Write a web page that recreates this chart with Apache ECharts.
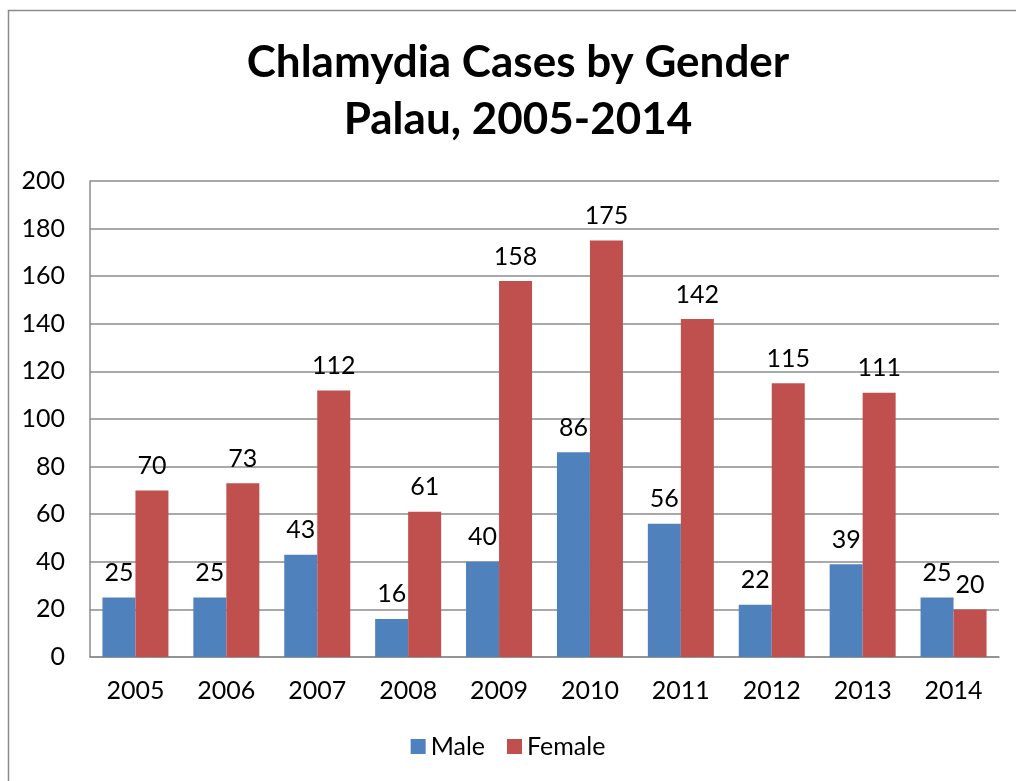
<!DOCTYPE html>
<html>
<head>
<meta charset="utf-8">
<script src="https://cdn.jsdelivr.net/npm/echarts@6/dist/echarts.min.js"></script>
<style>
    html, body { margin: 0; padding: 0; background: #fff; }
    #chart { width: 1016px; height: 781px; }
</style>
</head>
<body>
<div id="chart"></div>
<script>
    // data
    const years = ['2005', '2006', '2007', '2008', '2009', '2010', '2011', '2012', '2013', '2014'];
    const male = [25, 25, 43, 16, 40, 86, 56, 22, 39, 25];
    const female = [70, 73, 112, 61, 158, 175, 142, 115, 111, 20];
    const seriesNames = ['Male', 'Female'];
    const colors = ['#4F81BD', '#C0504D'];

    const font = 'Lato, "Open Sans", sans-serif';
    const myChart = echarts.init(document.getElementById('chart'));

    let option = {
        backgroundColor: '#fff',
        textStyle: { fontFamily: font },
        title: {
            text: 'Chlamydia Cases by Gender\nPalau, 2005-2014',
            // title sits a little right of the page centre in the original
            left: 513,
            textAlign: 'center',
            top: 29,
            textStyle: {
                fontFamily: font,
                fontWeight: 'bold',
                fontSize: 44,
                lineHeight: 57,
                color: '#000'
            }
        },
        // outer frame of the chart area
        graphic: [{
            type: 'rect',
            shape: { x: 8.5, y: 10.5, width: 1100, height: 900 },
            style: { fill: 'none', stroke: '#8c8c8c', lineWidth: 1.5 },
            silent: true
        }],
        legend: {
            data: seriesNames,
            bottom: 17,
            left: 'center',
            icon: 'rect',
            itemWidth: 15,
            itemHeight: 15,
            itemGap: 22,
            textStyle: { fontFamily: font, fontSize: 25, color: '#000' }
        },
        grid: {
            left: 90,
            right: 17,
            top: 181,
            bottom: 124
        },
        xAxis: {
            type: 'category',
            data: years,
            axisTick: { show: false },
            axisLine: { lineStyle: { color: '#8c8c8c', width: 1.5 } },
            axisLabel: { color: '#000', fontSize: 25, margin: 21, fontFamily: font }
        },
        yAxis: {
            type: 'value',
            min: 0,
            max: 200,
            interval: 20,
            axisTick: { show: false },
            axisLine: { show: true, lineStyle: { color: '#8c8c8c', width: 1.5 } },
            axisLabel: { color: '#000', fontSize: 25, margin: 25, fontFamily: font },
            splitLine: { lineStyle: { color: '#8c8c8c', width: 1.5 } }
        },
        series: [male, female].map((v, i) => ({
            name: seriesNames[i],
            type: 'bar',
            data: v,
            barWidth: 33,
            barGap: '0%',
            itemStyle: { color: colors[i] },
            label: {
                show: true,
                position: 'top',
                distance: 12,
                color: '#000',
                fontSize: 25,
                fontFamily: font
            }
        }))
    };
    myChart.setOption(option);

    window.addEventListener('resize', () => {
        myChart.resize();
    });
</script>
</body>
</html>
